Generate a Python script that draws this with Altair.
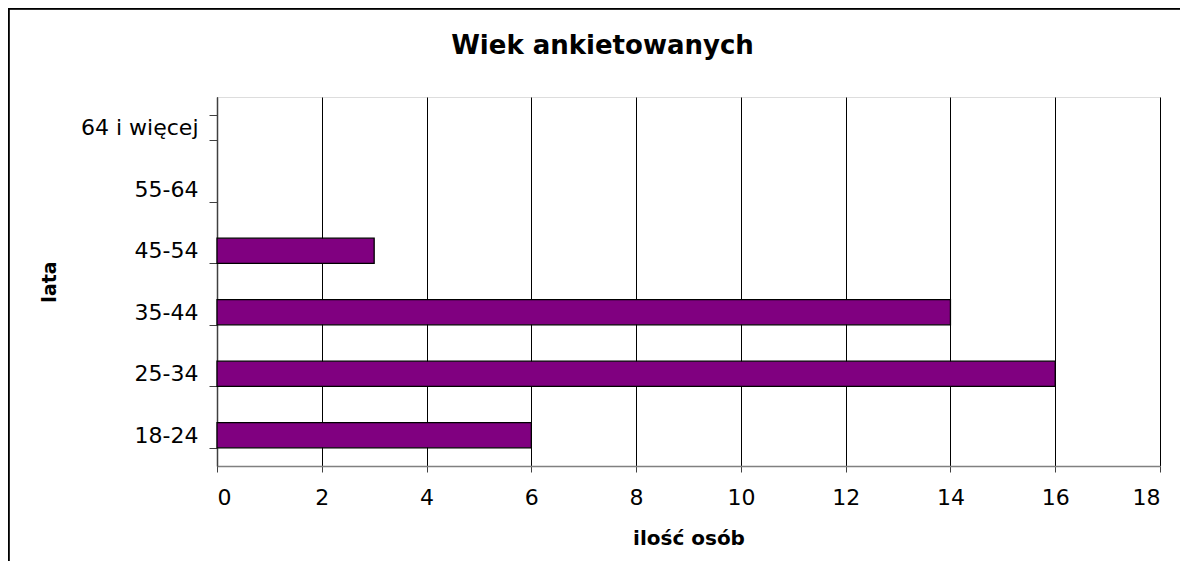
import altair as alt
import pandas as pd

categories = ["18-24", "25-34", "35-44", "45-54", "55-64", "64 i więcej"]
values = [6, 16, 14, 3, 0, 0]
x_ticks = [0, 2, 4, 6, 8, 10, 12, 14, 16, 18]
title_text = "Wiek ankietowanych"

df = pd.DataFrame({"wiek": categories, "osoby": values})
order = list(reversed(categories))

W, H = 943, 369
FONT = "DejaVu Sans"

bars = alt.Chart(df).mark_bar(color="#800080", stroke="#000000", strokeWidth=1.3).encode(
    x=alt.X("osoby:Q",
            scale=alt.Scale(domain=[0, 18], nice=False, zero=True),
            axis=alt.Axis(values=x_ticks, title="ilość osób", grid=True,
                          gridColor="#000000", gridOpacity=1, gridWidth=1,
                          domainColor="#808080", domainWidth=1.5,
                          tickColor="#404040", tickSize=6,
                          labelFont=FONT, labelFontSize=22, labelColor="#000000",
                          labelPadding=15,
                          titleFont=FONT, titleFontSize=20, titleFontWeight="bold",
                          titleColor="#000000", titlePadding=20)),
    y=alt.Y("wiek:N", sort=order,
            scale=alt.Scale(domain=order, paddingInner=0.59, paddingOuter=0.295),
            axis=alt.Axis(title="lata", tickBand="extent", grid=False,
                          domainColor="#404040", domainWidth=1.5,
                          tickColor="#404040", tickSize=8,
                          labelFont=FONT, labelFontSize=22, labelColor="#000000",
                          labelPadding=11,
                          titleFont=FONT, titleFontSize=19, titleFontWeight="bold",
                          titleColor="#000000", titlePadding=21)),
    opacity=alt.condition(alt.datum.osoby > 0, alt.value(1), alt.value(0)),
)

frame_top = alt.Chart(df).mark_rule(stroke="#000000", strokeWidth=1.5).encode(
    x=alt.value(-208.5), x2=alt.value(W + 80), y=alt.value(-88.5),
)
frame_left = alt.Chart(df).mark_rule(stroke="#000000", strokeWidth=1.5).encode(
    x=alt.value(-208.5), y=alt.value(-88.5), y2=alt.value(H + 140),
)

title = alt.Chart(pd.DataFrame({"t": [title_text]})).mark_text(
    font=FONT, fontSize=26, fontWeight="bold", color="#000000",
    align="center", baseline="alphabetic",
).encode(text="t:N", x=alt.value(W / 2 - 86), y=alt.value(-43))

chart = alt.layer(frame_top, frame_left, bars, title).properties(
    width=W, height=H,
    padding={"left": 209, "top": 89, "right": 20, "bottom": 95},
    autosize=alt.AutoSizeParams(type="none"),
).configure_view(stroke="#808080", strokeWidth=1.5).configure(background="#ffffff")

chart.save("out.html", embed_options={"renderer": "svg", "actions": False})
